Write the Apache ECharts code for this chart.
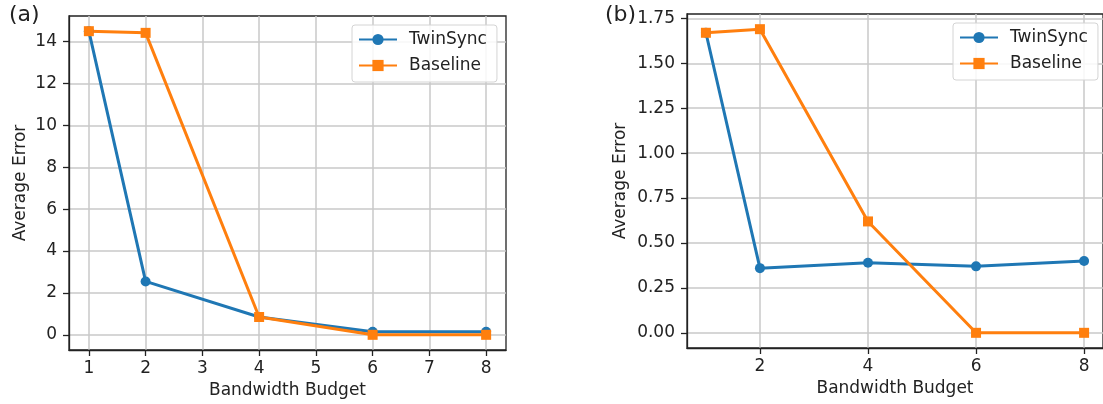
<!DOCTYPE html>
<html>
<head>
<meta charset="utf-8">
<script src="https://cdn.jsdelivr.net/npm/echarts@6/dist/echarts.min.js"></script>
<style>
  html, body { margin: 0; padding: 0; background: #fff; }
  #chart { width: 1103px; height: 404px; }
</style>
</head>
<body>
<div id="chart"></div>
<script>
// Panel (a)
const budgetsA = [1, 2, 4, 6, 8];
const twinSyncA = [14.5, 2.55, 0.85, 0.15, 0.15];
const baselineA = [14.5, 14.42, 0.85, 0.0, 0.0];
const xTicksA = [1, 2, 3, 4, 5, 6, 7, 8];
const yTicksA = [0, 2, 4, 6, 8, 10, 12, 14];

// Panel (b)
const budgetsB = [1, 2, 4, 6, 8];
const twinSyncB = [1.67, 0.36, 0.39, 0.37, 0.40];
const baselineB = [1.67, 1.69, 0.62, 0.0, 0.0];
const xTicksB = [2, 4, 6, 8];
const yTicksB = [0, 0.25, 0.5, 0.75, 1.0, 1.25, 1.5, 1.75];

const FONT = 'DejaVu Sans';
const FS = 17;
const BLUE = '#1f77b4';
const ORANGE = '#ff7f0e';
const GRIDLINE = '#c8c8c8';
const INK = '#222';

// 5% padding on each side of the data extent
function padded(values) {
  const lo = Math.min(...values), hi = Math.max(...values);
  const pad = (hi - lo) * 0.05;
  return [lo - pad, hi + pad];
}
const pts = (xs, ys) => xs.map((x, i) => [x, ys[i]]);

const xRangeA = padded(budgetsA);
const yRangeA = padded(twinSyncA.concat(baselineA));
const xRangeB = padded(budgetsB);
const yRangeB = padded(twinSyncB.concat(baselineB));

function xAxis(gridIndex, range, ticks) {
  return {
    type: 'value', gridIndex, min: range[0], max: range[1],
    name: 'Bandwidth Budget', nameLocation: 'middle', nameGap: 32,
    nameTextStyle: { fontFamily: FONT, fontSize: FS, color: INK },
    axisLine: { show: true, onZero: false, lineStyle: { color: INK, width: 1.3 } },
    axisTick: { show: true, inside: false, length: 6, customValues: ticks, lineStyle: { color: INK, width: 1.3 } },
    axisLabel: { customValues: ticks, margin: 10, fontFamily: FONT, fontSize: FS, color: INK },
    splitLine: { show: true, customValues: ticks, lineStyle: { color: GRIDLINE, width: 1.5 } }
  };
}
function yAxis(gridIndex, range, ticks, gap, fmt) {
  return {
    type: 'value', gridIndex, min: range[0], max: range[1],
    name: 'Average Error', nameLocation: 'middle', nameGap: gap, nameRotate: 90,
    nameTextStyle: { fontFamily: FONT, fontSize: FS, color: INK },
    axisLine: { show: true, onZero: false, lineStyle: { color: INK, width: 1.3 } },
    axisTick: { show: true, inside: false, length: 6, customValues: ticks, lineStyle: { color: INK, width: 1.3 } },
    axisLabel: { customValues: ticks, margin: 12, fontFamily: FONT, fontSize: FS, color: INK, formatter: fmt },
    splitLine: { show: true, customValues: ticks, lineStyle: { color: GRIDLINE, width: 1.5 } }
  };
}
function line(name, idx, data, color, symbol, size) {
  return {
    name, type: 'line', xAxisIndex: idx, yAxisIndex: idx, data,
    symbol, symbolSize: size, showSymbol: true, clip: false,
    lineStyle: { color, width: 3 }, itemStyle: { color },
    emphasis: { disabled: true }, animation: false
  };
}
function legend(left, top) {
  return {
    orient: 'vertical', left, top, data: ['TwinSync', 'Baseline'],
    itemWidth: 38, itemHeight: 14, itemGap: 9,
    padding: [6, 10, 8, 6],
    backgroundColor: 'rgba(255,255,255,0.85)', borderColor: '#d4d4d4', borderWidth: 1, borderRadius: 3,
    textStyle: { fontFamily: FONT, fontSize: FS, color: INK, lineHeight: 17, padding: [0, 0, 0, 7] },
    selectedMode: false
  };
}

const chart = echarts.init(document.getElementById('chart'), null, { renderer: 'canvas' });
chart.setOption({
  animation: false,
  backgroundColor: '#fff',
  title: [
    { text: '(a)', left: 4, top: -1, textStyle: { fontFamily: FONT, fontSize: 22, fontWeight: 'normal', color: INK } },
    { text: '(b)', left: 600, top: -1, textStyle: { fontFamily: FONT, fontSize: 22, fontWeight: 'normal', color: INK } }
  ],
  grid: [
    { left: 69, top: 16, width: 437, height: 336, show: true, borderColor: INK, borderWidth: 1.3, backgroundColor: 'transparent' },
    { left: 687, top: 14, width: 420, height: 334, show: true, borderColor: INK, borderWidth: 1.3, backgroundColor: 'transparent' }
  ],
  legend: [legend(352, 25), legend(953, 23)],
  xAxis: [xAxis(0, xRangeA, xTicksA), xAxis(1, xRangeB, xTicksB)],
  yAxis: [
    yAxis(0, yRangeA, yTicksA, 40, v => String(Math.round(v))),
    yAxis(1, yRangeB, yTicksB, 58, v => v.toFixed(2))
  ],
  series: [
    line('TwinSync', 0, pts(budgetsA, twinSyncA), BLUE, 'circle', 10),
    line('Baseline', 0, pts(budgetsA, baselineA), ORANGE, 'rect', 10),
    line('TwinSync', 1, pts(budgetsB, twinSyncB), BLUE, 'circle', 10),
    line('Baseline', 1, pts(budgetsB, baselineB), ORANGE, 'rect', 10)
  ]
});
</script>
</body>
</html>
